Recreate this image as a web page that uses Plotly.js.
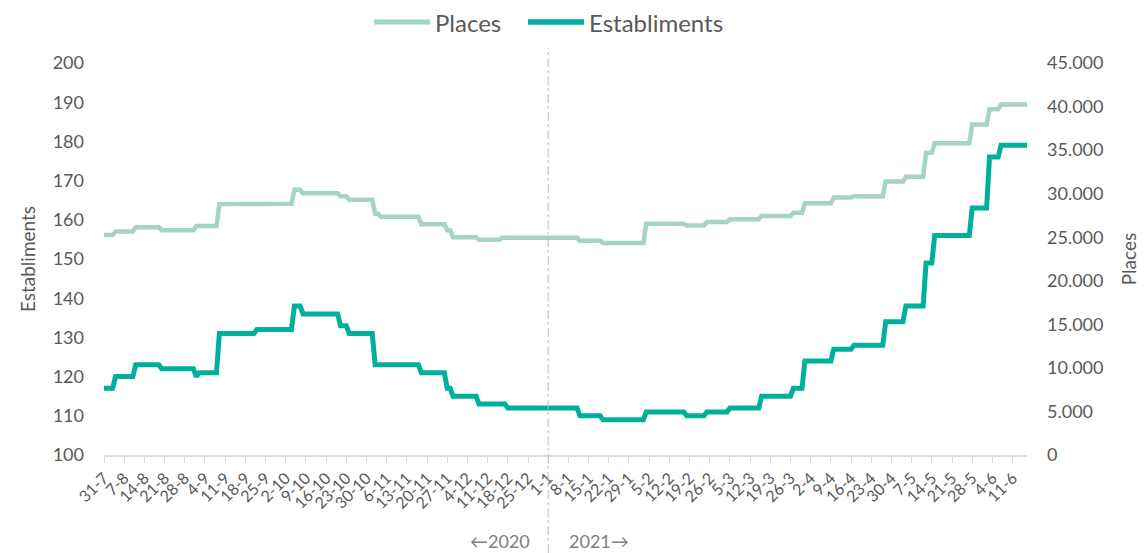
<!DOCTYPE html>
<html>
<head>
<meta charset="utf-8">
<script src="https://cdn.plot.ly/plotly-3.0.1.min.js"></script>
<style>
html,body{margin:0;padding:0;background:#fff;}
#chart{width:1145px;height:553px;}
</style>
</head>
<body>
<div id="chart"></div>
<script>
// Dates on which at least one of the two series changes value (daily data, held constant in between)
const changeDates = [
  '2020-07-31','2020-08-04','2020-08-11','2020-08-20','2020-09-01','2020-09-02','2020-09-09',
  '2020-09-22','2020-10-05','2020-10-08','2020-10-21','2020-10-24','2020-11-02','2020-11-04',
  '2020-11-18','2020-11-27','2020-11-29','2020-12-08','2020-12-16','2020-12-18','2021-01-12',
  '2021-01-20','2021-02-04','2021-02-18','2021-02-25','2021-03-05','2021-03-16','2021-03-27',
  '2021-03-31','2021-04-10','2021-04-17','2021-04-28','2021-05-05','2021-05-12','2021-05-15',
  '2021-05-28','2021-06-03','2021-06-07'
];
const establiments = [
  117,120,123,122,120,121,131,
  132,138,136,133,131,123,123,
  121,117,115,113,113,112,110,
  109,111,110,111,112,115,117,
  124,127,128,134,138,149,156,
  163,176,179
];
const places = [
  25250,25650,26150,25800,26300,26300,28800,
  28850,30450,30050,29700,29300,27700,27350,
  26500,25800,25000,24700,24950,24950,24600,
  24350,26550,26350,26750,27050,27450,27800,
  28900,29550,29700,31400,31950,34700,35800,
  37950,39700,40250
];
const lastDate = '2021-06-16';

const tickLabels = [
  '31-7','7-8','14-8','21-8','28-8','4-9','11-9','18-9','25-9','2-10','9-10','16-10','23-10',
  '30-10','6-11','13-11','20-11','27-11','4-12','11-12','18-12','25-12','1-1','8-1','15-1',
  '22-1','29-1','5-2','12-2','19-2','26-2','5-3','12-3','19-3','26-3','2-4','9-4','16-4',
  '23-4','30-4','7-5','14-5','21-5','28-5','4-6','11-6'
];
const firstTickDate = '2020-07-31';
const yearDivider = '2021-01-01';
const yearLabels = ['\u21902020', '2021\u2192'];
const seriesNames = ['Places', 'Establiments'];
const seriesColors = ['#a6d4c2', '#00b09b'];

function shiftDays(s, n){
  const d = new Date(s + 'T00:00:00Z');
  d.setUTCDate(d.getUTCDate() + n);
  return d.toISOString().slice(0,10);
}
function stepSeries(dates, vals, end){
  const x = [], y = [];
  for (let i = 0; i < dates.length; i++){
    if (i > 0){ x.push(shiftDays(dates[i], -1)); y.push(vals[i-1]); }
    x.push(dates[i]); y.push(vals[i]);
  }
  x.push(end); y.push(vals[vals.length-1]);
  return {x, y};
}
const tickVals = tickLabels.map((_, i) => shiftDays(firstTickDate, 7*i));

const pS = stepSeries(changeDates, places, lastDate);
const eS = stepSeries(changeDates, establiments, lastDate);

const FONT = 'Lato, "Open Sans", sans-serif';
const TXT = '#595959';

// plot area in pixels (for placing paper-referenced decorations)
const W = 1145, H = 553, ML = 104, MR = 118, MT = 63, MB = 98;
const PW = W - ML - MR, PH = H - MT - MB;
const px = v => (v - ML) / PW;
const py = v => (H - MB - v) / PH;

const traces = [
  {x: pS.x, y: pS.y, name: seriesNames[0], yaxis: 'y2', type: 'scatter', mode: 'lines',
   line: {color: seriesColors[0], width: 4.5}, showlegend: false},
  {x: eS.x, y: eS.y, name: seriesNames[1], yaxis: 'y', type: 'scatter', mode: 'lines',
   line: {color: seriesColors[1], width: 5}, showlegend: false}
];

// legend drawn as sample lines + labels
const legendItems = [
  {x0: 374, x1: 430, tx: 433},
  {x0: 528, x1: 584, tx: 587}
];
const legendShapes = legendItems.map((it, i) => ({
  type: 'line', xref: 'paper', yref: 'paper',
  x0: px(it.x0), x1: px(it.x1), y0: py(22), y1: py(22),
  line: {color: seriesColors[i], width: i === 0 ? 5 : 5.5}
}));
const legendTexts = legendItems.map((it, i) => ({
  text: seriesNames[i], xref: 'paper', yref: 'paper', x: px(it.tx), y: py(22),
  xanchor: 'left', yanchor: 'middle', showarrow: false,
  font: {size: 24, color: TXT, family: FONT}
}));

const layout = {
  width: W, height: H,
  paper_bgcolor: '#fff', plot_bgcolor: '#fff',
  margin: {l: ML, r: MR, t: MT, b: MB, autoexpand: false},
  separators: ',.',
  font: {family: FONT, color: TXT},
  showlegend: false,
  xaxis: {
    type: 'date', range: [firstTickDate, lastDate],
    tickmode: 'array', tickvals: tickVals, ticktext: tickLabels,
    tickangle: -45, tickfont: {size: 16, color: TXT, family: FONT},
    showgrid: false, zeroline: false,
    showline: true, linecolor: '#d9d9d9', linewidth: 1.5,
    ticks: 'outside', ticklen: 6, tickcolor: '#d9d9d9', tickwidth: 1
  },
  yaxis: {
    range: [100, 200], dtick: 10, tick0: 100,
    showgrid: false, zeroline: false, showline: false, ticks: '',
    ticklabelstandoff: 19,
    tickfont: {size: 18, color: TXT, family: FONT},
    title: {text: 'Establiments', font: {size: 19, color: TXT, family: FONT}, standoff: 12}
  },
  yaxis2: {
    overlaying: 'y', side: 'right',
    range: [0, 45000], dtick: 5000, tick0: 0, tickformat: ',d',
    showgrid: false, zeroline: false, showline: false, ticks: '',
    ticklabelstandoff: 19,
    tickfont: {size: 18, color: TXT, family: FONT},
    title: {text: 'Places', font: {size: 19, color: TXT, family: FONT}, standoff: 20}
  },
  shapes: [{
    type: 'line', xref: 'x', yref: 'paper',
    x0: yearDivider, x1: yearDivider, y0: py(H), y1: py(48),
    line: {color: '#bfbfbf', width: 1, dash: 'dashdot'}
  }].concat(legendShapes),
  annotations: [
    {text: yearLabels[0], xref: 'paper', yref: 'paper', x: px(500), y: py(541),
     xanchor: 'center', yanchor: 'middle', showarrow: false,
     font: {size: 18, color: '#808080', family: FONT}},
    {text: yearLabels[1], xref: 'paper', yref: 'paper', x: px(599), y: py(541),
     xanchor: 'center', yanchor: 'middle', showarrow: false,
     font: {size: 18, color: '#808080', family: FONT}}
  ].concat(legendTexts)
};

Plotly.newPlot('chart', traces, layout, {staticPlot: true, displayModeBar: false});
</script>
</body>
</html>
